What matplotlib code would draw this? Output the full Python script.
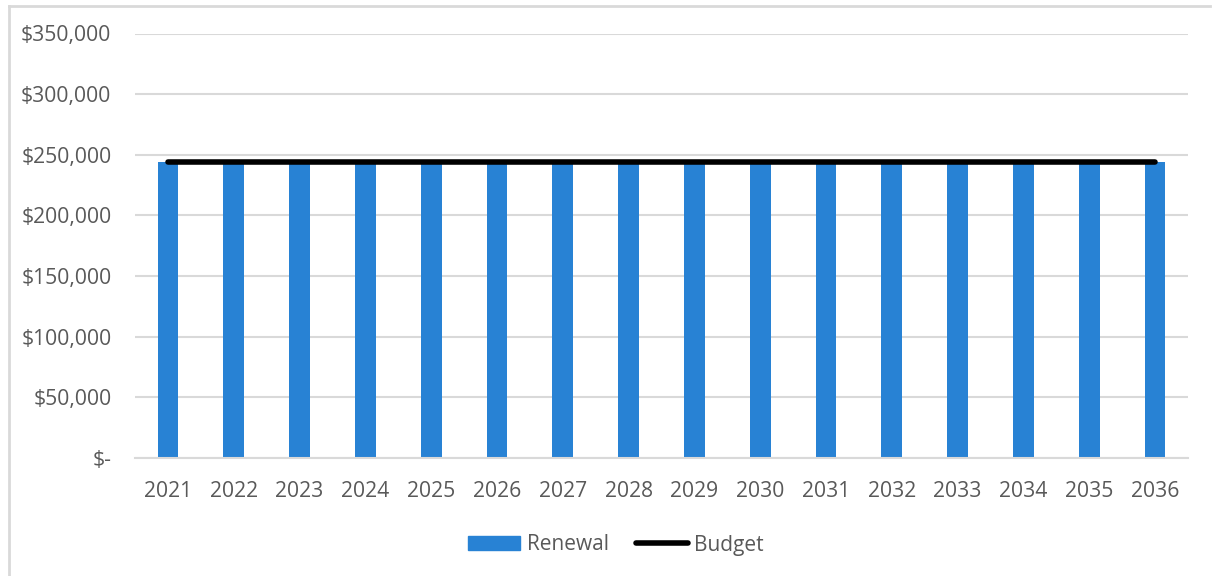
import numpy as np
import matplotlib.pyplot as plt
from matplotlib.ticker import FuncFormatter
from matplotlib.lines import Line2D

# data
years = [str(y) for y in range(2021, 2037)]
renewal = [244000] * 16
budget = [244000] * 16

plt.rcParams['font.family'] = ['Open Sans', 'DejaVu Sans']
text_col = '#595959'
grid_col = '#d9d9d9'

fig = plt.figure(figsize=(12.14, 5.76), dpi=100)
ax = fig.add_axes([135 / 1214, 1 - 457.7 / 576, (1188 - 135) / 1214, (457.7 - 33.5) / 576])

x = np.arange(len(years))
ax.bar(x, renewal, width=0.315, color='#2882d4', label='Renewal', zorder=2)
ax.plot(x, budget, color='black', lw=4, solid_capstyle='round', label='Budget', zorder=3)

ax.set_xlim(-0.5, len(years) - 0.5)
ax.set_ylim(0, 350000)
ax.set_yticks(np.arange(0, 350001, 50000))
ax.yaxis.set_major_formatter(FuncFormatter(lambda v, p: '$-' if v == 0 else f'${v:,.0f}'))
ax.set_xticks(x)
ax.set_xticklabels(years)

ax.grid(axis='y', color=grid_col, lw=1.5, zorder=0)
for s in ['top', 'right', 'left']:
    ax.spines[s].set_visible(False)
ax.spines['bottom'].set_color(grid_col)
ax.spines['bottom'].set_linewidth(1.5)
ax.tick_params(axis='both', length=0, labelsize=15.2, colors=text_col)
ax.tick_params(axis='y', pad=17)
ax.tick_params(axis='x', pad=17)

handles = [plt.Rectangle((0, 0), 1, 1, color='#2882d4'),
           Line2D([0], [0], color='black', lw=4, solid_capstyle='round')]
fig.legend(handles, ['Renewal', 'Budget'], loc='center', bbox_to_anchor=(0.5 + 9 / 1214, 1 - 545 / 576),
           ncol=2, frameon=False, fontsize=15, labelcolor=text_col,
           handlelength=2.5, handleheight=0.65, handletextpad=0.3, columnspacing=1.3)

# outer chart border (left and top visible)
fig.add_artist(Line2D([8.5 / 1214, 8.5 / 1214], [0, 1 - 5.5 / 576], transform=fig.transFigure, color=grid_col, lw=2))
fig.add_artist(Line2D([8.5 / 1214, 1210 / 1214], [1 - 5.5 / 576, 1 - 5.5 / 576], transform=fig.transFigure, color=grid_col, lw=2))

fig.savefig('out.png', dpi=100)
